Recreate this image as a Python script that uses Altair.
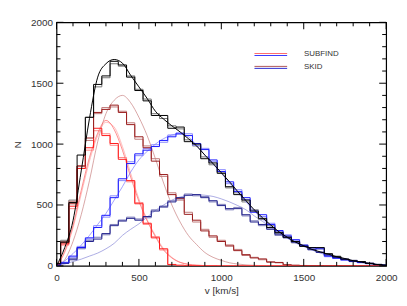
import altair as alt
import pandas as pd

# bin centres (km/s)
V = list(range(0, 2001, 50))

black_hist = [20,195,520,910,1220,1490,1560,1680,1650,1550, 1440,1355,1235,1235,1130,1140,1020,1000,880,845,
              760,650,585,540,450,390,315,275,235,200, 160,150,150,100,75,55,40,35,20,10, 5]
gray_hist = [15,210,540,820,1220,1470,1545,1660,1640,1560, 1450,1370,1250,1210,1150,1125,1035,985,895,830,
             770,640,600,525,460,380,330,265,245,190, 170,145,140,95,80,50,45,30,22,12, 5]
red_hist = [10,180,490,800,970,1130,1070,1005,875,700, 510,350,230,140,10,5,3,2,1,1,
            0,0,0,0,0,0,0,0,0,0, 0,0,0,0,0,0,0,0,0,0, 0]
pink_hist = [8,170,470,820,950,1110,1085,990,890,690, 520,340,240,130,12,4,2,1,1,0,
             0,0,0,0,0,0,0,0,0,0, 0,0,0,0,0,0,0,0,0,0, 0]
dred_hist = [10,190,510,820,1050,1260,1285,1320,1260,1160, 1060,970,860,750,585,555,423,375,287,246,
             200,170,125,92,65,57,30,28,8,5, 3,2,2,1,1,0,0,0,0,0, 0]
rosy_hist = [12,200,530,800,1030,1250,1300,1305,1270,1175, 1040,985,880,735,600,540,440,360,300,235,
             210,160,135,85,70,50,35,25,10,4, 3,2,1,1,0,0,0,0,0,0, 0]
blue_hist = [5,25,80,150,230,315,415,560,715,840, 920,950,980,1030,1060,1090,1070,1005,955,870,
             775,690,610,560,440,420,340,290,245,215, 165,150,140,80,62,50,35,28,18,10, 5]
lblue_hist = [6,30,70,160,220,330,400,575,700,855, 905,965,995,1015,1075,1080,1085,990,965,855,
              790,675,625,545,455,405,350,280,255,205, 175,140,150,75,65,45,38,25,20,8, 4]
navy_hist = [5,20,50,150,200,220,265,330,375,390, 375,405,450,490,525,560,580,585,560,535,
             495,470,470,420,360,340,300,260,230,195, 165,135,110,90,68,55,42,32,20,12, 5]
lnavy_hist = [4,25,60,140,210,235,255,340,365,400, 385,395,460,480,535,550,590,575,570,525,
              505,460,480,410,370,330,310,250,235,190, 170,130,115,85,70,52,45,30,22,10, 5]

black_fit = [0,150,370,780,1210,1550,1660,1695,1665,1565, 1470,1375,1270,1205,1150,1100,1045,985,910,840,
             765,690,610,535,460,395,335,280,235,195, 165,135,115,95,75,60,42,30,20,10, 5]
red_fit = [0,120,330,620,890,1090,1195,1120,950,730, 530,370,240,130,65,28,12,5,2,0,
           0,0,0,0,0,0,0,0,0,0, 0,0,0,0,0,0,0,0,0,0, 0]
pink_fit = [0,110,310,590,860,1070,1180,1140,980,760, 550,380,250,140,70,30,14,6,2,0,
            0,0,0,0,0,0,0,0,0,0, 0,0,0,0,0,0,0,0,0,0, 0]
rosy_fit = [0,50,200,420,700,1020,1250,1360,1400,1340, 1220,1070,880,680,500,360,250,175,110,70,
            45,25,15,8,4,2,0,0,0,0, 0,0,0,0,0,0,0,0,0,0, 0]
blue_fit = [0,40,100,170,250,340,430,540,650,770, 870,940,1000,1045,1075,1085,1060,990,910,835,
            760,680,600,525,450,385,325,272,228,190, 160,132,110,90,72,57,41,29,19,10, 4]
navy_fit = [0,15,35,55,80,105,140,185,250,300, 345,400,455,500,540,565,580,585,580,570,
            550,525,495,460,410,365,320,270,230,190, 160,130,105,85,68,52,40,28,18,10, 5]

x_major = [0, 500, 1000, 1500, 2000]
x_minor = [v for v in range(100, 2000, 100) if v % 500]
y_major = [0, 500, 1000, 1500, 2000]
y_minor = [v for v in range(100, 2000, 100) if v % 500]

W, H = 333, 246

X = alt.X("v:Q", scale=alt.Scale(domain=[0, 2000], nice=False, zero=False),
          axis=alt.Axis(values=x_major, title="v [km/s]", labelPadding=7, titlePadding=3,
                        labelFlush=False, format="d"))
Y = alt.Y("n:Q", scale=alt.Scale(domain=[0, 2000], nice=False),
          axis=alt.Axis(values=y_major, title="N", labelPadding=4, titlePadding=8,
                        labelFlush=False, format="d"))


def frame(vals):
    return pd.DataFrame({"v": V, "n": vals})


def step(vals, color, sw=1.0):
    return alt.Chart(frame(vals)).mark_line(interpolate="step", color=color, strokeWidth=sw,
                                            clip=True).encode(x=X, y=Y)


def curve(vals, color, sw=0.7):
    return alt.Chart(frame(vals)).mark_line(interpolate="monotone", color=color, strokeWidth=sw,
                                            clip=True).encode(x=X, y=Y)


def xticks(vals, length):
    d = pd.DataFrame({"v": vals})
    b = alt.Chart(d).mark_rule(color="black", strokeWidth=1).encode(
        x=alt.X("v:Q"), y=alt.value(H), y2=alt.value(H - length))
    t = alt.Chart(d).mark_rule(color="black", strokeWidth=1).encode(
        x=alt.X("v:Q"), y=alt.value(0), y2=alt.value(length))
    return [b, t]


def yticks(vals, length):
    d = pd.DataFrame({"n": vals})
    l = alt.Chart(d).mark_rule(color="black", strokeWidth=1).encode(
        y=alt.Y("n:Q"), x=alt.value(0), x2=alt.value(length))
    r = alt.Chart(d).mark_rule(color="black", strokeWidth=1).encode(
        y=alt.Y("n:Q"), x=alt.value(W), x2=alt.value(W - length))
    return [l, r]


def leg_line(y, color):
    return alt.Chart(pd.DataFrame({"a": [0]})).mark_rule(color=color, strokeWidth=1).encode(
        x=alt.value(200), x2=alt.value(233), y=alt.value(y))


def leg_text(label, y):
    return alt.Chart(pd.DataFrame({"t": [label]})).mark_text(
        align="left", baseline="middle", font="Liberation Sans", fontSize=8, color="#333"
    ).encode(x=alt.value(250), y=alt.value(y), text="t:N")


layers = [
    step(gray_hist, "#777777"),
    step(pink_hist, "#ff8a8a"),
    step(rosy_hist, "#c07a7a"),
    step(lblue_hist, "#8a8aff"),
    step(lnavy_hist, "#7a7ab8"),
    curve(rosy_fit, "#c88080"),
    curve(pink_fit, "#ffa0a0"),
    curve(red_fit, "#ff6060"),
    curve(navy_fit, "#8888d8"),
    curve(blue_fit, "#7a7aff"),
    step(red_hist, "#ff1a1a"),
    step(dred_hist, "#991a1a"),
    step(navy_hist, "#20208c"),
    step(blue_hist, "#1a1aff"),
    step(black_hist, "#000000"),
    curve(black_fit, "#000000", 1.0),
]
layers += xticks(x_major, 7) + xticks(x_minor, 4) + yticks(y_major, 7) + yticks(y_minor, 4)
layers += [
    leg_line(31.5, "#ff6a6a"), leg_line(33.5, "#3a3aff"),
    leg_line(44.5, "#b05a5a"), leg_line(46.5, "#2a2ad0"),
    leg_text("SUBFIND", 32.5), leg_text("SKID", 45.5),
]

chart = alt.layer(*layers).properties(
    width=W, height=H,
    autosize=alt.AutoSizeParams(type="none"),
    padding={"left": 49, "top": 13, "right": 13, "bottom": 32},
).configure_view(stroke="black", strokeWidth=1.2).configure_axis(
    grid=False, domain=False, ticks=False, tickSize=0,
    labelFont="Liberation Sans", labelFontSize=10, labelColor="#333",
    titleFont="Liberation Sans", titleFontSize=10, titleColor="#333", titleFontWeight="normal",
)

chart.save("out.html", embed_options={"renderer": "svg", "actions": False})
